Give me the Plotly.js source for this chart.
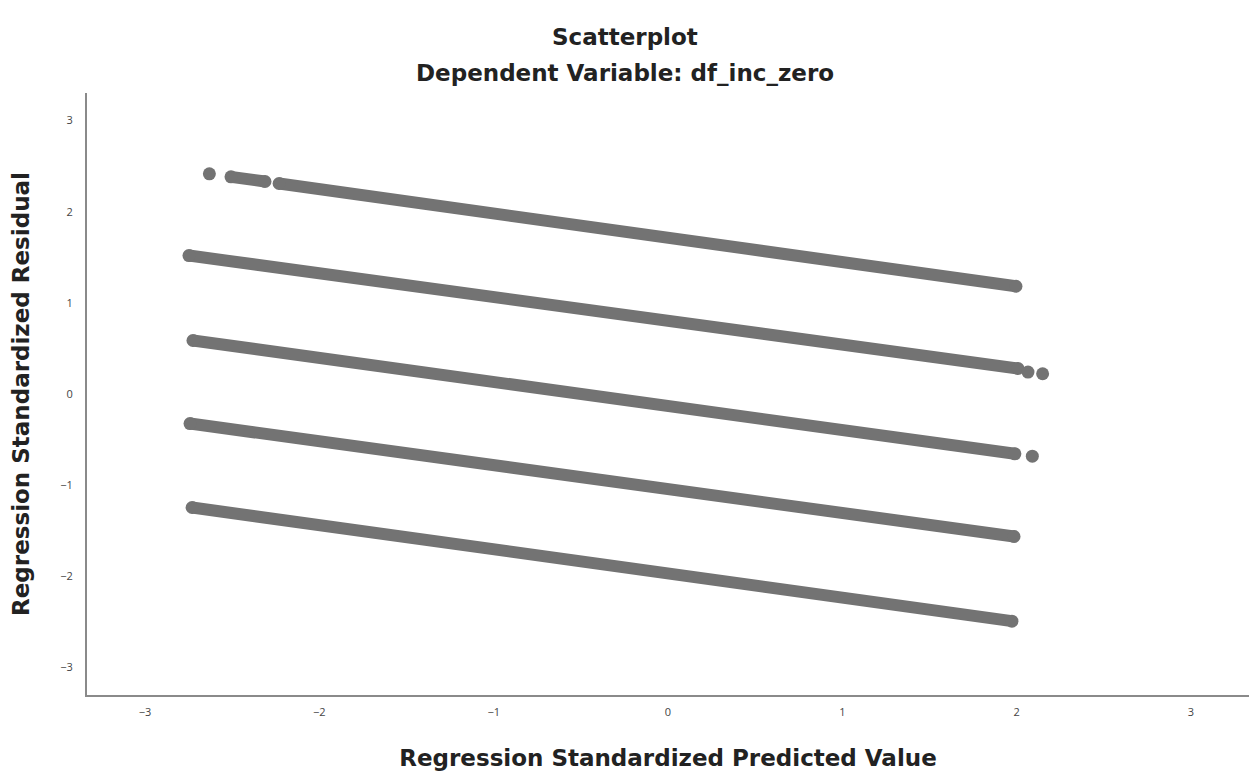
<!DOCTYPE html>
<html>
<head>
<meta charset="utf-8">
<script src="https://cdn.plot.ly/plotly-3.0.1.min.js"></script>
<style>
html,body{margin:0;padding:0;background:#fff;}
#chart{width:1253px;height:774px;}
</style>
</head>
<body>
<div id="chart"></div>
<script>
// Bands of points; null separates visual gaps
var band1X = [-2.631, null, -2.507, -2.312, null, -2.231, 1.996];
var band1Y = [2.415, null, 2.382, 2.331, null, 2.309, 1.182];
var band2X = [-2.748, 2.008, null, 2.065, null, 2.149];
var band2Y = [1.519, 0.280, null, 0.241, null, 0.222];
var band3X = [-2.725, 1.990, null, 2.090];
var band3Y = [0.587, -0.656, null, -0.682];
var band4X = [-2.742, 1.985];
var band4Y = [-0.324, -1.563];
var band5X = [-2.730, 1.973];
var band5Y = [-1.245, -2.492];

var tickVals = [-3, -2, -1, 0, 1, 2, 3];
var tickText = ["\u22123", "\u22122", "\u22121", "0", "1", "2", "3"];

var mainTitle = "Scatterplot";
var subTitle = "Dependent Variable: df_inc_zero";
var xTitle = "Regression Standardized Predicted Value";
var yTitle = "Regression Standardized Residual";

var markColor = "#737373";
var bands = [[band1X, band1Y], [band2X, band2Y], [band3X, band3Y], [band4X, band4Y], [band5X, band5Y]];
var traces = bands.map(function (b) {
  return {
    x: b[0], y: b[1], type: "scatter", mode: "lines+markers",
    connectgaps: false,
    line: {color: markColor, width: 12},
    marker: {color: markColor, size: 13, line: {width: 0}},
    hoverinfo: "x+y", showlegend: false
  };
});

var titleFont = {family: "DejaVu Sans, sans-serif", size: 23, color: "#222"};
var headFont = {family: "DejaVu Sans, sans-serif", size: 23, color: "#222"};
var tickFont = {family: "Open Sans, DejaVu Sans, sans-serif", size: 11, color: "#444"};
var layout = {
  width: 1253, height: 774,
  paper_bgcolor: "#fff", plot_bgcolor: "#fff",
  margin: {l: 87, r: 4, t: 93, b: 79, pad: 0},
  showlegend: false,
  xaxis: {
    range: [-3.333, 3.333], showgrid: false, zeroline: false,
    showline: true, linecolor: "#8a8a8a", linewidth: 2,
    ticks: "", tickvals: tickVals, ticktext: tickText,
    tickfont: tickFont, ticklabelstandoff: 6,
    title: {text: "<b>" + xTitle + "</b>", font: titleFont, standoff: 32}
  },
  yaxis: {
    range: [-3.302, 3.302], showgrid: false, zeroline: false,
    showline: true, linecolor: "#8a8a8a", linewidth: 2,
    ticks: "", tickvals: tickVals, ticktext: tickText,
    tickfont: tickFont, ticklabelstandoff: 10,
    title: {text: "<b>" + yTitle + "</b>", font: titleFont, standoff: 24}
  },
  annotations: [
    {text: "<b>" + mainTitle + "</b>", xref: "paper", yref: "paper", x: 0.463, y: 1, yshift: 56,
     showarrow: false, font: headFont, xanchor: "center", yanchor: "middle"},
    {text: "<b>" + subTitle + "</b>", xref: "paper", yref: "paper", x: 0.463, y: 1, yshift: 20,
     showarrow: false, font: headFont, xanchor: "center", yanchor: "middle"}
  ]
};

Plotly.newPlot("chart", traces, layout, {displayModeBar: false, responsive: false});
</script>
</body>
</html>
